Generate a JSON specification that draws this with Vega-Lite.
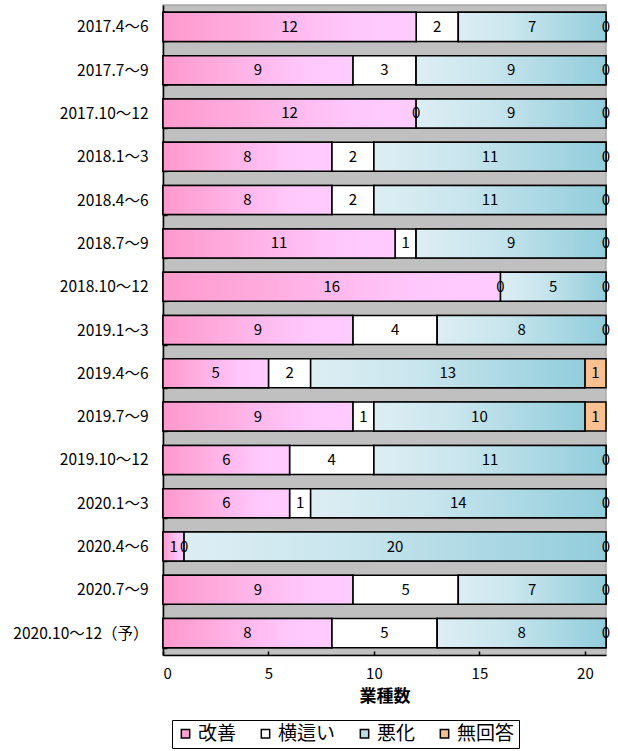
{
  "$schema": "https://vega.github.io/schema/vega-lite/v6.json",
  "width": 443,
  "height": 650,
  "autosize": "none",
  "padding": {"left": 163, "top": 5, "right": 12, "bottom": 96},
  "background": "white",
  "config": {
    "font": "Noto Sans CJK JP",
    "view": {"fill": "#c0c0c0", "stroke": "#a6a6a6", "strokeWidth": 1.5},
    "axisX": {
      "titleFontSize": 17, "titleFontWeight": "bold", "titleColor": "black", "titlePadding": 7,
      "grid": false,
      "domainColor": "black", "domainWidth": 1.5,
      "tickColor": "black", "tickSize": -4, "tickWidth": 1.5,
      "labelFontSize": 15, "labelColor": "black", "labelPadding": 15
    },
    "axisY": {
      "domainColor": "black", "domainWidth": 1.5,
      "tickColor": "black", "tickSize": -4, "tickWidth": 1.5, "tickBand": "extent",
      "labelFontSize": 15.5, "labelColor": "black", "labelPadding": 19
    }
  },
  "data": {
    "values": [
      {"p": "2017.4～6", "k": "改善", "o": 1, "v": 12}, {"p": "2017.4～6", "k": "横這い", "o": 2, "v": 2}, {"p": "2017.4～6", "k": "悪化", "o": 3, "v": 7}, {"p": "2017.4～6", "k": "無回答", "o": 4, "v": 0},
      {"p": "2017.7～9", "k": "改善", "o": 1, "v": 9}, {"p": "2017.7～9", "k": "横這い", "o": 2, "v": 3}, {"p": "2017.7～9", "k": "悪化", "o": 3, "v": 9}, {"p": "2017.7～9", "k": "無回答", "o": 4, "v": 0},
      {"p": "2017.10～12", "k": "改善", "o": 1, "v": 12}, {"p": "2017.10～12", "k": "横這い", "o": 2, "v": 0}, {"p": "2017.10～12", "k": "悪化", "o": 3, "v": 9}, {"p": "2017.10～12", "k": "無回答", "o": 4, "v": 0},
      {"p": "2018.1～3", "k": "改善", "o": 1, "v": 8}, {"p": "2018.1～3", "k": "横這い", "o": 2, "v": 2}, {"p": "2018.1～3", "k": "悪化", "o": 3, "v": 11}, {"p": "2018.1～3", "k": "無回答", "o": 4, "v": 0},
      {"p": "2018.4～6", "k": "改善", "o": 1, "v": 8}, {"p": "2018.4～6", "k": "横這い", "o": 2, "v": 2}, {"p": "2018.4～6", "k": "悪化", "o": 3, "v": 11}, {"p": "2018.4～6", "k": "無回答", "o": 4, "v": 0},
      {"p": "2018.7～9", "k": "改善", "o": 1, "v": 11}, {"p": "2018.7～9", "k": "横這い", "o": 2, "v": 1}, {"p": "2018.7～9", "k": "悪化", "o": 3, "v": 9}, {"p": "2018.7～9", "k": "無回答", "o": 4, "v": 0},
      {"p": "2018.10～12", "k": "改善", "o": 1, "v": 16}, {"p": "2018.10～12", "k": "横這い", "o": 2, "v": 0}, {"p": "2018.10～12", "k": "悪化", "o": 3, "v": 5}, {"p": "2018.10～12", "k": "無回答", "o": 4, "v": 0},
      {"p": "2019.1～3", "k": "改善", "o": 1, "v": 9}, {"p": "2019.1～3", "k": "横這い", "o": 2, "v": 4}, {"p": "2019.1～3", "k": "悪化", "o": 3, "v": 8}, {"p": "2019.1～3", "k": "無回答", "o": 4, "v": 0},
      {"p": "2019.4～6", "k": "改善", "o": 1, "v": 5}, {"p": "2019.4～6", "k": "横這い", "o": 2, "v": 2}, {"p": "2019.4～6", "k": "悪化", "o": 3, "v": 13}, {"p": "2019.4～6", "k": "無回答", "o": 4, "v": 1},
      {"p": "2019.7～9", "k": "改善", "o": 1, "v": 9}, {"p": "2019.7～9", "k": "横這い", "o": 2, "v": 1}, {"p": "2019.7～9", "k": "悪化", "o": 3, "v": 10}, {"p": "2019.7～9", "k": "無回答", "o": 4, "v": 1},
      {"p": "2019.10～12", "k": "改善", "o": 1, "v": 6}, {"p": "2019.10～12", "k": "横這い", "o": 2, "v": 4}, {"p": "2019.10～12", "k": "悪化", "o": 3, "v": 11}, {"p": "2019.10～12", "k": "無回答", "o": 4, "v": 0},
      {"p": "2020.1～3", "k": "改善", "o": 1, "v": 6}, {"p": "2020.1～3", "k": "横這い", "o": 2, "v": 1}, {"p": "2020.1～3", "k": "悪化", "o": 3, "v": 14}, {"p": "2020.1～3", "k": "無回答", "o": 4, "v": 0},
      {"p": "2020.4～6", "k": "改善", "o": 1, "v": 1}, {"p": "2020.4～6", "k": "横這い", "o": 2, "v": 0}, {"p": "2020.4～6", "k": "悪化", "o": 3, "v": 20}, {"p": "2020.4～6", "k": "無回答", "o": 4, "v": 0},
      {"p": "2020.7～9", "k": "改善", "o": 1, "v": 9}, {"p": "2020.7～9", "k": "横這い", "o": 2, "v": 5}, {"p": "2020.7～9", "k": "悪化", "o": 3, "v": 7}, {"p": "2020.7～9", "k": "無回答", "o": 4, "v": 0},
      {"p": "2020.10～12（予）", "k": "改善", "o": 1, "v": 8}, {"p": "2020.10～12（予）", "k": "横這い", "o": 2, "v": 5}, {"p": "2020.10～12（予）", "k": "悪化", "o": 3, "v": 8}, {"p": "2020.10～12（予）", "k": "無回答", "o": 4, "v": 0}
    ]
  },
  "transform": [
    {"stack": "v", "groupby": ["p"], "sort": [{"field": "o", "order": "ascending"}], "as": ["s0", "s1"]}
  ],
  "encoding": {
    "y": {
      "field": "p", "type": "nominal", "sort": null, "title": null,
      "scale": {"paddingInner": 0.33, "paddingOuter": 0.17}
    }
  },
  "layer": [
    {
      "mark": {"type": "bar", "stroke": "black", "strokeWidth": 1.5},
      "encoding": {
        "x": {"field": "s0", "type": "quantitative", "title": "業種数", "scale": {"domain": [0, 21], "nice": false},
          "axis": {"values": [0, 5, 10, 15, 20]}},
        "x2": {"field": "s1"},
        "color": {
          "field": "k", "type": "nominal",
          "scale": {"domain": ["改善", "横這い", "悪化", "無回答"], "range": ["#ff9fd6", "#ffffff", "#b7dee8", "#fac090"]},
          "legend": {
            "title": null, "orient": "none", "direction": "horizontal",
            "legendX": 9, "legendY": 715,
            "symbolType": "square", "symbolSize": 70, "symbolStrokeColor": "black", "symbolStrokeWidth": 1.5,
            "labelFontSize": 19, "labelColor": "black", "labelOffset": 3, "columnPadding": 19,
            "strokeColor": "black", "fillColor": "white", "padding": 4
          }
        }
      }
    },
    {
      "transform": [{"filter": "datum.k === '改善'"}],
      "mark": {"type": "bar", "stroke": "black", "strokeWidth": 1.5,
        "fill": {"gradient": "linear", "x1": 0, "y1": 0, "x2": 1, "y2": 0,
          "stops": [{"offset": 0, "color": "#ff99cc"}, {"offset": 0.75, "color": "#ffc8fc"}, {"offset": 1, "color": "#ffccff"}]}},
      "encoding": {
        "x": {"field": "s0", "type": "quantitative", "title": "業種数", "axis": {"values": [0, 5, 10, 15, 20]}},
        "x2": {"field": "s1"}
      }
    },
    {
      "transform": [{"filter": "datum.k === '悪化'"}],
      "mark": {"type": "bar", "stroke": "black", "strokeWidth": 1.5,
        "fill": {"gradient": "linear", "x1": 0, "y1": 0, "x2": 1, "y2": 0,
          "stops": [{"offset": 0, "color": "#ddeef4"}, {"offset": 0.4, "color": "#c8e5ed"}, {"offset": 1, "color": "#92cddc"}]}},
      "encoding": {
        "x": {"field": "s0", "type": "quantitative", "title": "業種数", "axis": {"values": [0, 5, 10, 15, 20]}},
        "x2": {"field": "s1"}
      }
    },
    {
      "transform": [
        {"fold": ["s0", "s1"], "as": ["edge", "pos"]},
        {"aggregate": [{"op": "mean", "field": "pos", "as": "mid"}], "groupby": ["p", "k", "v"]}
      ],
      "mark": {"type": "text", "fontSize": 15, "color": "black", "baseline": "middle", "align": "center"},
      "encoding": {
        "x": {"field": "mid", "type": "quantitative", "title": "業種数", "axis": {"values": [0, 5, 10, 15, 20]}},
        "text": {"field": "v", "type": "quantitative"}
      }
    }
  ]
}
